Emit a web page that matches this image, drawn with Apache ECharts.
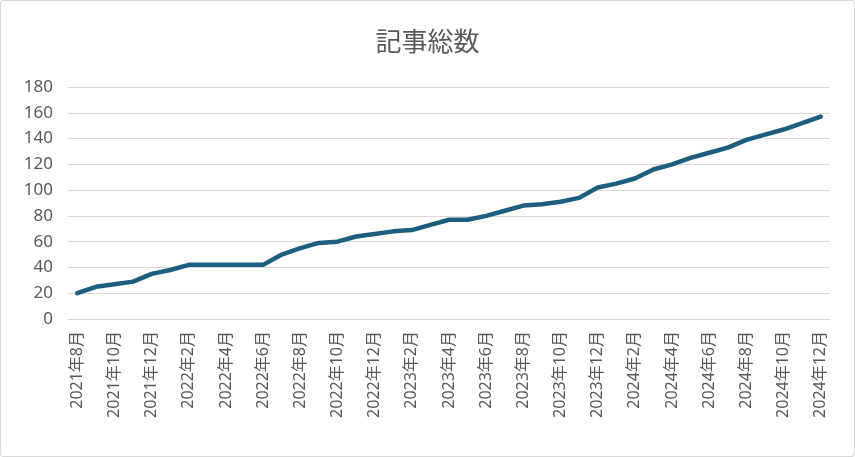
<!DOCTYPE html>
<html><head><meta charset="utf-8">
<script src="https://cdn.jsdelivr.net/npm/echarts@6/dist/echarts.min.js"></script>
<style>
html,body{margin:0;padding:0;background:#fff;}
#c{width:855px;height:457px;box-sizing:border-box;border:1px solid #d9d9d9;border-radius:3px;}
</style></head>
<body><div id="c"></div>
<script>
const title = "記事総数";
const categories = [];
const startYear = 2021, startMonth = 8, monthCount = 41;
for (let k = 0; k < monthCount; k++) {
  const m = startMonth - 1 + k;
  categories.push((startYear + Math.floor(m / 12)) + "年" + (m % 12 + 1) + "月");
}
const values = [20,25,27,29,35,38,42,42,42,42,42,50,55,59,60,64,66,68,69,73,77,
                77,80,84,88,89,91,94,102,105,109,116,120,125,129,133,139,143,147,152,157];
const yMin = 0, yMax = 180, yStep = 20;

const chart = echarts.init(document.getElementById('c'));
chart.setOption({
  animation:false,
  title:{text:title,left:'center',top:22,textStyle:{color:'#595959',fontSize:26,fontWeight:'normal',fontFamily:'Noto Sans CJK JP'}},
  grid:{left:67,right:24,top:86,bottom:137,containLabel:false},
  xAxis:{type:'category',data:categories,boundaryGap:true,
    axisLine:{lineStyle:{color:'#d9d9d9',width:1}},
    axisTick:{interval:1,length:5,lineStyle:{color:'#d9d9d9'}},
    axisLabel:{interval:1,rotate:90,color:'#595959',fontSize:16,margin:12,fontFamily:'Noto Sans, Noto Sans CJK JP'}},
  yAxis:{type:'value',min:yMin,max:yMax,interval:yStep,
    axisLine:{show:false},axisTick:{show:false},
    splitLine:{lineStyle:{color:'#d9d9d9',width:1}},
    axisLabel:{color:'#595959',fontSize:17,margin:15,fontFamily:'Noto Sans'}},
  series:[{type:'line',data:values,symbol:'none',smooth:false,
    lineStyle:{color:'#1d5e7e',width:4.5,cap:'round',join:'round'}}]
});
</script></body></html>
